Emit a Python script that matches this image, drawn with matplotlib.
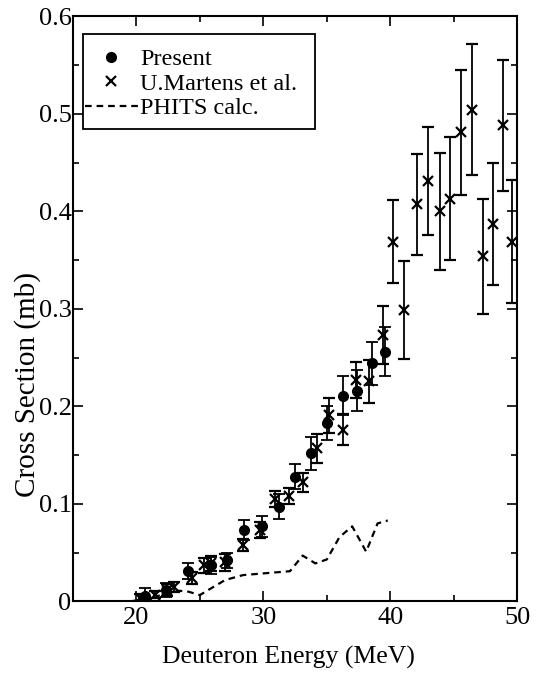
import numpy as np
import matplotlib
matplotlib.use("Agg")
import matplotlib.pyplot as plt
from matplotlib.lines import Line2D
from matplotlib.patches import Rectangle
from matplotlib.ticker import MultipleLocator, FuncFormatter

plt.rcParams['font.family'] = ['Liberation Serif', 'DejaVu Serif']

# Present data (dots)
e_pres = [20.67, 22.3, 24.1, 25.9, 27.1, 28.5, 29.9, 31.25, 32.5, 33.75, 35.0, 36.25, 37.35, 38.55, 39.6]
s_pres = [0.0056, 0.012, 0.031, 0.037, 0.042, 0.073, 0.077, 0.097, 0.128, 0.152, 0.183, 0.211, 0.216, 0.244, 0.256]
d_pres = [0.008, 0.007, 0.008, 0.009, 0.008, 0.010, 0.011, 0.013, 0.013, 0.017, 0.017, 0.020, 0.021, 0.022, 0.025]

# U.Martens et al. (crosses)
e_mart = [20.3, 21.5, 22.4, 23.0, 24.35, 25.3, 25.9, 27.0, 28.4, 29.7, 30.9, 32.05, 33.1, 34.2, 35.2, 36.25,
          37.3, 38.3, 39.4, 40.2, 41.05, 42.1, 43.0, 43.9, 44.7, 45.6, 46.4, 47.3, 48.1, 48.9, 49.6]
s_mart = [0.003, 0.007, 0.012, 0.015, 0.024, 0.037, 0.039, 0.040, 0.058, 0.073, 0.105, 0.108, 0.122, 0.157, 0.191, 0.176,
          0.227, 0.2255, 0.273, 0.369, 0.299, 0.407, 0.431, 0.400, 0.413, 0.481, 0.504, 0.354, 0.387, 0.488, 0.369]
d_mart = [0.005, 0.004, 0.006, 0.005, 0.006, 0.008, 0.008, 0.009, 0.006, 0.008, 0.008, 0.008, 0.010, 0.015, 0.018, 0.016,
          0.018, 0.022, 0.030, 0.043, 0.050, 0.052, 0.055, 0.060, 0.063, 0.064, 0.067, 0.059, 0.063, 0.067, 0.063]

# PHITS calculation (dashed)
e_phits = [15, 19.5, 20.5, 22.5, 23.3, 24.1, 25.0, 25.7, 27.0, 28.4, 32.1, 33.1, 34.1, 35.0, 36.0, 37.0, 38.1, 39.0, 39.8]
s_phits = [0, 0, 0.002, 0.008, 0.011, 0.010, 0.0065, 0.012, 0.022, 0.027, 0.031, 0.047, 0.039, 0.043, 0.066, 0.077, 0.051, 0.080, 0.083]

fig = plt.figure(figsize=(5.36, 6.75), dpi=100)
ax = fig.add_axes([0.136, 0.109, 0.829, 0.867])

ax.errorbar(e_pres, s_pres, yerr=d_pres, fmt='o', color='black', ms=7,
            capsize=4, elinewidth=1.3, capthick=1.3)
ax.errorbar(e_mart, s_mart, yerr=d_mart, fmt='x', color='black', ms=7, mew=1.6,
            capsize=4, elinewidth=1.3, capthick=1.3)
ax.plot(e_phits, s_phits, color='black', lw=1.6, dashes=(3, 2.2))

ax.set_xlim(15, 50)
ax.set_ylim(0, 0.6)
ax.xaxis.set_major_locator(MultipleLocator(10))
ax.xaxis.set_minor_locator(MultipleLocator(5))
ax.yaxis.set_major_locator(MultipleLocator(0.1))
ax.yaxis.set_minor_locator(MultipleLocator(0.05))
ax.yaxis.set_major_formatter(FuncFormatter(lambda v, p: '%g' % round(v, 2)))
ax.tick_params(which='both', direction='in', top=True, right=True, labelsize=19, width=1.2)
ax.tick_params(which='major', length=7)
ax.tick_params(which='minor', length=4)
ax.tick_params(axis='x', pad=4)
ax.tick_params(axis='y', pad=1)
for sp in ax.spines.values():
    sp.set_linewidth(1.5)

ax.set_xlabel('Deuteron Energy (MeV)', fontsize=18.5, va='center')
ax.xaxis.set_label_coords(0.484, -0.095)
ax.set_ylabel('Cross Section (mb)', fontsize=21, va='center')
ax.yaxis.set_label_coords(-0.101, 0.37)

# legend: plain marker handles, frame drawn separately
handles = [Line2D([], [], marker='o', ls='none', color='black', ms=7),
           Line2D([], [], marker='x', ls='none', color='black', ms=7, mew=1.6),
           Line2D([], [], color='black', lw=1.6, dashes=(3, 2.2))]
labels = ['Present', 'U.Martens et al.', 'PHITS calc.']
ax.legend(handles, labels, loc='upper left', bbox_to_anchor=(0.027, 0.9453), fontsize=17.5,
          frameon=False, handlelength=2.18, handletextpad=0.08, borderpad=0, borderaxespad=0,
          labelspacing=0.1)
ax.add_patch(Rectangle((0.0225, 0.808), 0.5225, 0.161, transform=ax.transAxes,
                       fill=False, edgecolor='black', lw=1.3, zorder=5))

fig.savefig('out.png', dpi=100)
